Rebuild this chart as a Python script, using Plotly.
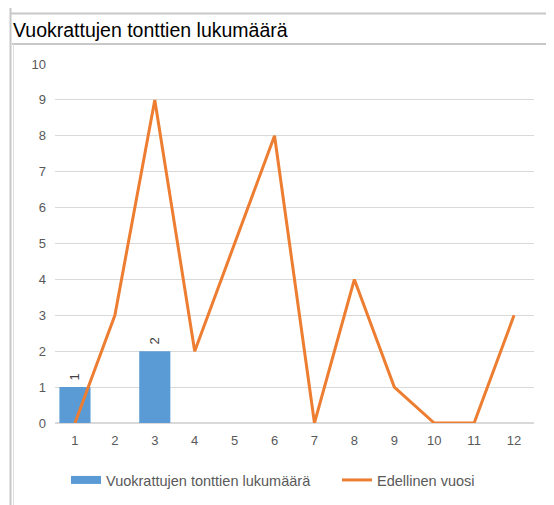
import plotly.graph_objects as go

months = [str(i) for i in range(1, 13)]
rented = [1, None, 2, None, None, None, None, None, None, None, None, None]
previous_year = [0, 3, 9, 2, 5, 8, 0, 4, 1, 0, 0, 3]
y_ticks = list(range(0, 11))

# page body has an 8px margin; work in screen pixels and offset
OFF = 8
W, H = 554 - OFF, 505 - OFF
S_LEFT, S_RIGHT, S_TOP, S_BOTTOM = 55, 534, 64, 423
L = S_LEFT - OFF
R = W - (S_RIGHT - OFF)
T = S_TOP - OFF
B = H - (S_BOTTOM - OFF)
pw, ph = W - L - R, H - T - B


def px(x):
    return (x - OFF - L) / pw


def py(y):
    return (H - B - (y - OFF)) / ph


def cx(x):
    return (x - OFF) / W


def cy(y):
    return (H - (y - OFF)) / H


FONT = "Liberation Sans"
LEG_FONT = dict(color="#595959", size=14.5, family=FONT)

fig = go.Figure()
fig.add_trace(go.Bar(
    x=months, y=rented, name="Vuokrattujen tonttien lukumäärä",
    marker=dict(color="#5B9BD5", line=dict(width=0)),
    text=[("" if v is None else "\u00a0" + str(v)) for v in rented],
    textposition="outside", textangle=-90, cliponaxis=False,
    textfont=dict(color="#404040", size=13, family=FONT),
    showlegend=False,
))
# legend entry drawn as a wide rectangle like the original
fig.add_trace(go.Scatter(
    x=[None], y=[None], name="Vuokrattujen tonttien lukumäärä", mode="lines",
    line=dict(color="#5B9BD5", width=8), legend="legend",
))
fig.add_trace(go.Scatter(
    x=months, y=previous_year, name="Edellinen vuosi", mode="lines",
    line=dict(color="#ED7D31", width=3), legend="legend2",
))

shapes = []
shapes.append(dict(type="line", xref="paper", yref="paper",
                   x0=px(10.5), x1=px(10.5), y0=py(OFF), y1=py(512),
                   line=dict(color="#C8C8C8", width=2)))
shapes.append(dict(type="line", xref="paper", yref="paper",
                   x0=px(10), x1=px(554), y0=py(13.5), y1=py(13.5),
                   line=dict(color="#C8C8C8", width=2)))
shapes.append(dict(type="line", xref="paper", yref="paper",
                   x0=px(12), x1=px(554), y0=py(44), y1=py(44),
                   line=dict(color="#C8C8C8", width=2)))
shapes.append(dict(type="line", xref="paper", yref="paper",
                   x0=px(13.5), x1=px(13.5), y0=py(44), y1=py(512),
                   line=dict(color="#E0E0E0", width=1)))

fig.update_layout(
    width=W, height=H,
    margin=dict(l=L, r=R, t=T, b=B, autoexpand=False),
    paper_bgcolor="white", plot_bgcolor="white",
    bargap=0.22,
    showlegend=True,
    legend=dict(orientation="h", xref="container", yref="container",
                x=cx(66), xanchor="left", y=cy(480), yanchor="middle",
                font=LEG_FONT, itemwidth=30, bgcolor="rgba(0,0,0,0)"),
    legend2=dict(orientation="h", xref="container", yref="container",
                 x=cx(337), xanchor="left", y=cy(480), yanchor="middle",
                 font=LEG_FONT, itemwidth=30, bgcolor="rgba(0,0,0,0)"),
    shapes=shapes,
    annotations=[dict(text="Vuokrattujen tonttien lukumäärä", xref="paper", yref="paper",
                      x=px(11), y=py(30), xanchor="left", yanchor="middle", showarrow=False,
                      font=dict(size=19.5, color="#000000", family=FONT))],
    xaxis=dict(tickfont=dict(color="#595959", size=13, family=FONT),
               showgrid=False, showline=False, ticks="", fixedrange=True,
               ticklabelstandoff=8, automargin=False),
    yaxis=dict(range=[0, 10], tickvals=y_ticks, showgrid=True, gridcolor="#D9D9D9", gridwidth=1,
               zeroline=True, zerolinecolor="#D9D9D9",
               tickfont=dict(color="#595959", size=13, family=FONT),
               ticks="", ticklabelstandoff=8, showline=False, automargin=False),
)

fig.write_html("out.html")
